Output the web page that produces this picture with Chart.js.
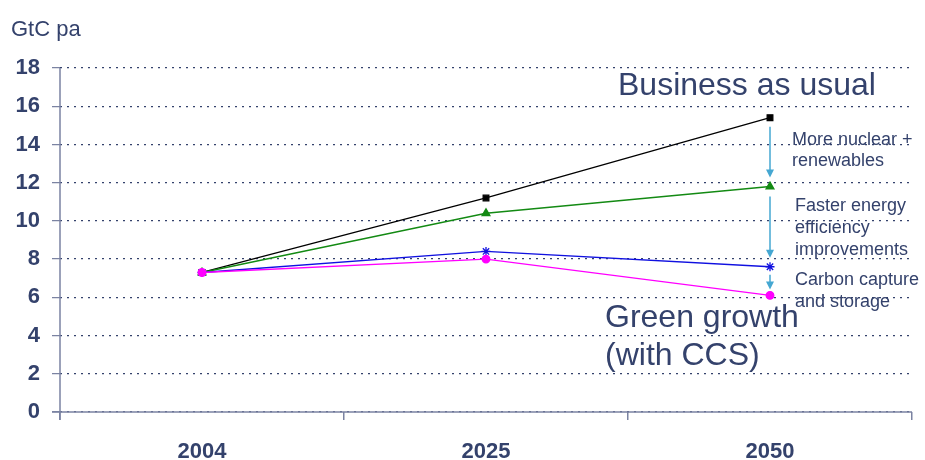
<!DOCTYPE html>
<html>
<head>
<meta charset="utf-8">
<script src="https://cdn.jsdelivr.net/npm/chart.js@4/dist/chart.umd.min.js"></script>
<style>
  html, body { margin: 0; padding: 0; background: #fff; }
  #wrap { width: 925px; height: 460px; }
</style>
</head>
<body>
<div id="wrap"><canvas id="emissions"></canvas></div>
<script>
const years = ["2004", "2025", "2050"];
const businessAsUsual = [7.3, 11.2, 15.4];
const nuclearRenewables = [7.3, 10.4, 11.8];
const efficiency = [7.3, 8.4, 7.6];
const greenGrowth = [7.3, 8.0, 6.1];
const yTicks = [0, 2, 4, 6, 8, 10, 12, 14, 16, 18];

const navy = "#34426c";
const axisGrey = "#7b83a2";
const arrowBlue = "#45a7d2";
const font = "'Liberation Sans', Arial, sans-serif";

// solid axis lines (border.dash also dashes the scale border)
const axes = {
  id: "axes",
  beforeDatasetsDraw(chart) {
    const { ctx, chartArea: a } = chart;
    ctx.save();
    ctx.strokeStyle = axisGrey;
    ctx.lineWidth = 1.5;
    ctx.setLineDash([]);
    ctx.beginPath();
    ctx.moveTo(a.left, a.top);
    ctx.lineTo(a.left, a.bottom + 8);
    ctx.moveTo(a.left - 8, a.bottom);
    ctx.lineTo(a.right, a.bottom);
    ctx.stroke();
    ctx.restore();
  }
};

// captions, arrows between the 2050 points and the unit label
const overlay = {
  id: "overlay",
  afterDatasetsDraw(chart) {
    const { ctx, scales: { x, y } } = chart;
    const px = x.getPixelForValue(2);
    const last = [businessAsUsual[2], nuclearRenewables[2], efficiency[2], greenGrowth[2]];
    const gaps = [[9, 9], [10, 9], [8, 6]];

    ctx.save();
    ctx.strokeStyle = arrowBlue;
    ctx.fillStyle = arrowBlue;
    ctx.lineWidth = 1.5;
    for (let i = 0; i < 3; i++) {
      const y0 = y.getPixelForValue(last[i]) + gaps[i][0];
      const y1 = y.getPixelForValue(last[i + 1]) - gaps[i][1];
      ctx.beginPath();
      ctx.moveTo(px, y0);
      ctx.lineTo(px, y1 - 6);
      ctx.stroke();
      ctx.beginPath();
      ctx.moveTo(px - 4, y1 - 8);
      ctx.lineTo(px + 4, y1 - 8);
      ctx.lineTo(px, y1);
      ctx.closePath();
      ctx.fill();
    }

    ctx.fillStyle = navy;
    ctx.textAlign = "left";
    ctx.textBaseline = "alphabetic";
    ctx.font = "22px " + font;
    ctx.fillText("GtC pa", 11, 36);

    ctx.font = "32px " + font;
    ctx.fillText("Business as usual", 618, 95);
    ctx.fillText("Green growth", 605, 327);
    ctx.fillText("(with CCS)", 605, 365);

    ctx.font = "18px " + font;
    ctx.fillText("More nuclear +", 792, 145);
    ctx.fillText("renewables", 792, 166);
    ctx.fillText("Faster energy", 795, 211);
    ctx.fillText("efficiency", 795, 233);
    ctx.fillText("improvements", 795, 255);
    ctx.fillText("Carbon capture", 795, 285);
    ctx.fillText("and storage", 795, 307);
    ctx.restore();
  }
};

const series = (data, color, style, radius, order) => ({
  data: data,
  order: order,
  borderColor: color,
  backgroundColor: color,
  borderWidth: 1.3,
  pointStyle: style,
  pointRadius: radius,
  pointBorderWidth: 1.3,
  pointBorderColor: color,
  tension: 0
});

new Chart(document.getElementById("emissions"), {
  type: "line",
  data: {
    labels: years,
    datasets: [
      series(businessAsUsual, "#000000", "rect", 4, 3),
      series(nuclearRenewables, "#138a13", "triangle", 4.5, 2),
      series(efficiency, "#1010e0", "star", 4.5, 1),
      series(greenGrowth, "#ff00ff", "circle", 3.8, 0)
    ]
  },
  options: {
    responsive: true,
    maintainAspectRatio: false,
    animation: false,
    layout: { padding: { left: 0, top: 68, right: 13, bottom: 0 } },
    plugins: {
      legend: { display: false },
      tooltip: { enabled: false }
    },
    scales: {
      x: {
        offset: true,
        afterFit(scale) { scale.height = 48; },
        border: { display: false },
        grid: {
          offset: true,
          drawOnChartArea: false,
          drawTicks: true,
          tickLength: 8,
          tickColor: axisGrey,
          lineWidth: 1.5
        },
        ticks: {
          color: navy,
          padding: 19,
          font: { family: font, size: 22, weight: "bold" }
        }
      },
      y: {
        min: 0,
        max: 18,
        afterFit(scale) { scale.width = 60; },
        afterBuildTicks(scale) { scale.ticks = yTicks.map(v => ({ value: v })); },
        border: { display: false, dash: [2, 5] },
        grid: {
          color: navy,
          lineWidth: 1.3,
          tickLength: 8,
          tickColor: axisGrey,
          tickBorderDash: [1, 0],
          drawTicks: true
        },
        ticks: {
          color: navy,
          padding: 12,
          font: { family: font, size: 22, weight: "bold" }
        }
      }
    }
  },
  plugins: [axes, overlay]
});
</script>
</body>
</html>
